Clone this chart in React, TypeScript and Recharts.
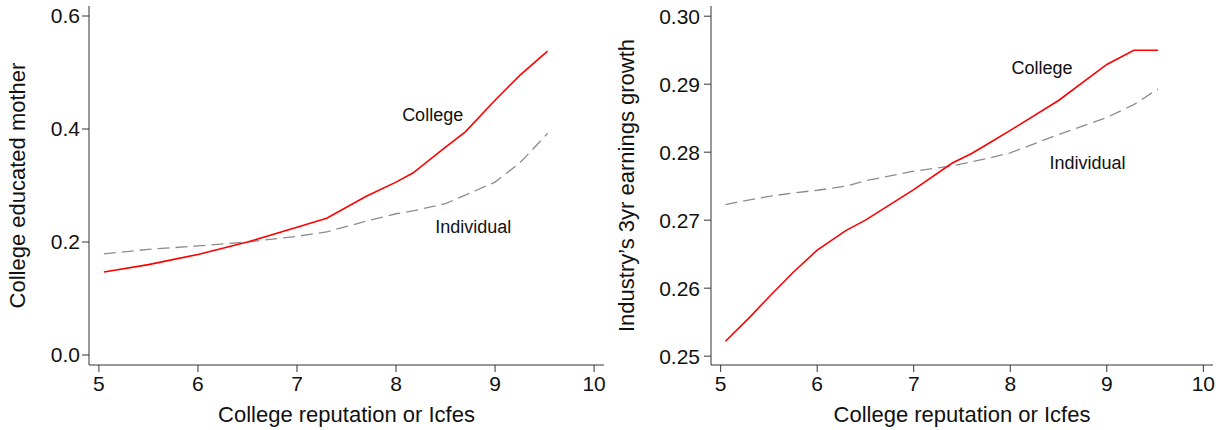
import React from 'react';
import { LineChart, Line, XAxis, YAxis, ReferenceDot } from 'recharts';

// left panel: college educated mother
const motherX = [5.05, 5.5, 6, 6.5, 7, 7.3, 7.7, 8, 8.17, 8.5, 8.7, 9, 9.25, 9.53];
const motherCollege = [0.147, 0.16, 0.178, 0.2, 0.226, 0.242, 0.281, 0.306, 0.322, 0.368, 0.395, 0.451, 0.495, 0.538];
const motherIndividual = [0.179, 0.187, 0.193, 0.2, 0.21, 0.218, 0.237, 0.25, 0.255, 0.268, 0.283, 0.306, 0.34, 0.392];

// right panel: industry's 3yr earnings growth
const growthX = [5.05, 5.3, 5.5, 5.75, 6, 6.3, 6.5, 7, 7.4, 7.6, 7.8, 8, 8.5, 9, 9.28, 9.53];
const growthCollege = [0.2522, 0.2557, 0.2587, 0.2623, 0.2656, 0.2685, 0.27, 0.2745, 0.2784, 0.2798, 0.2815, 0.2832, 0.2876, 0.2929, 0.295, 0.295];
const growthIndividual = [0.2723, 0.273, 0.2735, 0.274, 0.2744, 0.275, 0.2758, 0.2772, 0.278, 0.2786, 0.2792, 0.2799, 0.2826, 0.2851, 0.287, 0.2893];

const xTicks = [5, 6, 7, 8, 9, 10];
const motherTicks = [0, 0.2, 0.4, 0.6];
const growthTicks = [0.25, 0.26, 0.27, 0.28, 0.29, 0.3];

const xTitle = 'College reputation or Icfes';

const build = (xs: number[], college: number[], individual: number[]) =>
  xs.map((x, i) => ({ x, college: college[i], individual: individual[i] }));

const motherData = build(motherX, motherCollege, motherIndividual);
const growthData = build(growthX, growthCollege, growthIndividual);

const FONT = '"Liberation Sans", Arial, Helvetica, sans-serif';
const AXIS = '#333';
const INK = '#111';

const yTitle = (text: string, baseX: number) => (props: any) => {
  const vb = props.viewBox || {};
  const cy = vb.y + vb.height / 2;
  return (
    <text
      transform={`translate(${baseX}, ${cy}) rotate(-90)`}
      textAnchor="middle"
      fontSize={22}
      fill={INK}
      fontFamily={FONT}
    >
      {text}
    </text>
  );
};

const xTitleLabel = (props: any) => {
  const vb = props.viewBox || {};
  return (
    <text
      x={vb.x + vb.width / 2}
      y={vb.y + 57}
      textAnchor="middle"
      fontSize={22}
      fill={INK}
      fontFamily={FONT}
    >
      {xTitle}
    </text>
  );
};

const curveLabel = (text: string) => ({
  value: text,
  position: 'center' as const,
  fontSize: 18,
  fill: INK,
  fontFamily: FONT,
});

interface PanelProps {
  data: { x: number; college: number; individual: number }[];
  width: number;
  yWidth: number;
  marginRight: number;
  yDomain: [number, number];
  yTicks: number[];
  digits: number;
  tickMargin: number;
  title: string;
  titleX: number;
  collegeAt: [number, number];
  individualAt: [number, number];
}

function Panel(p: PanelProps) {
  return (
    <LineChart
      width={p.width}
      height={430}
      data={p.data}
      margin={{ top: 6, right: p.marginRight, left: 0, bottom: 0 }}
      style={{ fontFamily: FONT }}
    >
      <XAxis
        dataKey="x"
        type="number"
        domain={[4.9, 10.1]}
        ticks={xTicks}
        allowDataOverflow
        height={65}
        tickSize={7}
        tickMargin={4}
        stroke={AXIS}
        tick={{ fill: INK, fontSize: 21, fontFamily: FONT }}
        label={xTitleLabel}
      />
      <YAxis
        type="number"
        domain={p.yDomain}
        ticks={p.yTicks}
        allowDataOverflow
        width={p.yWidth}
        tickSize={7}
        tickMargin={p.tickMargin}
        stroke={AXIS}
        tick={{ fill: INK, fontSize: 21, fontFamily: FONT }}
        tickFormatter={(v: number) => v.toFixed(p.digits)}
        label={yTitle(p.title, p.titleX)}
      />
      <Line
        type="linear"
        dataKey="individual"
        stroke="#8c8c8c"
        strokeWidth={1.3}
        strokeDasharray="12 6"
        dot={false}
        isAnimationActive={false}
      />
      <Line
        type="linear"
        dataKey="college"
        stroke="#ff0000"
        strokeWidth={1.6}
        dot={false}
        isAnimationActive={false}
      />
      <ReferenceDot x={p.collegeAt[0]} y={p.collegeAt[1]} r={0} fill="none" stroke="none" label={curveLabel('College')} />
      <ReferenceDot x={p.individualAt[0]} y={p.individualAt[1]} r={0} fill="none" stroke="none" label={curveLabel('Individual')} />
    </LineChart>
  );
}

export default function App() {
  return (
    <div style={{ position: 'absolute', left: 0, top: 0, width: 1225, height: 430, background: '#fff', display: 'flex' }}>
      <Panel
        data={motherData}
        width={612}
        yWidth={89}
        marginRight={8}
        yDomain={[-0.0177, 0.6177]}
        yTicks={motherTicks}
        digits={1}
        tickMargin={2}
        title="College educated mother"
        titleX={25}
        collegeAt={[8.37, 0.425]}
        individualAt={[8.78, 0.228]}
      />
      <Panel
        data={growthData}
        width={613}
        yWidth={99}
        marginRight={12}
        yDomain={[0.2487, 0.3015]}
        yTicks={growthTicks}
        digits={2}
        tickMargin={4}
        title="Industry’s 3yr earnings growth"
        titleX={22}
        collegeAt={[8.33, 0.2924]}
        individualAt={[8.8, 0.2784]}
      />
    </div>
  );
}
